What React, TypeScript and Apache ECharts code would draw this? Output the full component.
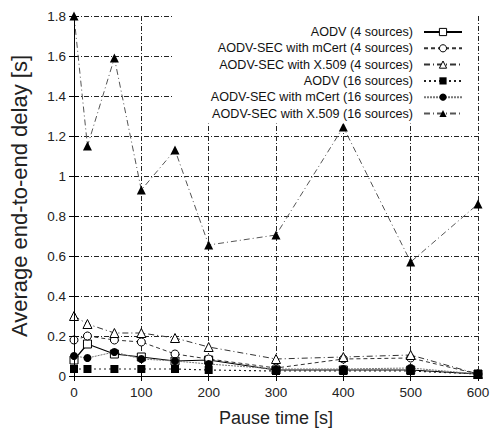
import React, { useEffect, useRef } from "react";
import * as echarts from "echarts";

const pauseTimes = [0, 20, 60, 100, 150, 200, 300, 400, 500, 600];
const aodv4 = [0.08, 0.16, 0.11, 0.095, 0.075, 0.08, 0.03, 0.03, 0.03, 0.01];
const mcert4 = [0.18, 0.2, 0.18, 0.17, 0.11, 0.085, 0.04, 0.085, 0.09, 0.01];
const x509_4 = [0.3, 0.26, 0.215, 0.215, 0.19, 0.145, 0.085, 0.095, 0.105, 0.01];
const aodv16 = [0.035, 0.035, 0.035, 0.035, 0.035, 0.03, 0.025, 0.025, 0.025, 0.01];
const mcert16 = [0.1, 0.09, 0.12, 0.085, 0.075, 0.06, 0.035, 0.035, 0.04, 0.01];
const x509_16 = [1.8, 1.15, 1.59, 0.93, 1.13, 0.655, 0.705, 1.245, 0.57, 0.86];

const seriesNames = [
  "AODV (4 sources)",
  "AODV-SEC with mCert (4 sources)",
  "AODV-SEC with X.509 (4 sources)",
  "AODV (16 sources)",
  "AODV-SEC with mCert (16 sources)",
  "AODV-SEC with X.509 (16 sources)",
];

const FONT = "'Liberation Sans', Arial, sans-serif";

const styles = [
  { symbol: "rect", hollow: true, line: "solid" as any, lineColor: "#000", width: 1.2 },
  { symbol: "circle", hollow: true, line: [4, 3], lineColor: "#333", width: 1 },
  { symbol: "triangle", hollow: true, line: [6, 3, 1, 3], lineColor: "#333", width: 1 },
  { symbol: "rect", hollow: false, line: [2, 3], lineColor: "#222", width: 1.2 },
  { symbol: "circle", hollow: false, line: [2, 1], lineColor: "#777", width: 1 },
  { symbol: "triangle", hollow: false, line: [6, 3, 1, 3], lineColor: "#555", width: 1 },
];

const allData = [aodv4, mcert4, x509_4, aodv16, mcert16, x509_16];

export default function App() {
  const ref = useRef<HTMLDivElement>(null);
  useEffect(() => {
    if (!ref.current) return;
    const chart = echarts.init(ref.current, null, { renderer: "svg" });
    const gridLine = { show: true, lineStyle: { color: "#222", width: 1, type: [5, 2, 1, 2] as any } };
    const series = allData.map((vals, i) => {
      const st = styles[i];
      return {
        name: seriesNames[i],
        type: "line",
        data: pauseTimes.map((x, j) => [x, vals[j]]),
        symbol: st.symbol,
        symbolSize: st.symbol === "triangle" ? 9 : 8,
        showAllSymbol: true,
        xAxisIndex: 0,
        yAxisIndex: 0,
        lineStyle: { color: st.lineColor, width: st.width, type: st.line },
        itemStyle: st.hollow
          ? { color: "#fff", borderColor: "#000", borderWidth: 1 }
          : { color: "#000", borderColor: "#000", borderWidth: 0 },
        emphasis: { disabled: true },
        z: i === 5 ? 3 : 2,
      };
    });
    const legendData = seriesNames.map((name, i) => ({
      name,
      itemStyle: styles[i].hollow
        ? { color: "#fff", borderColor: "#000", borderWidth: 1 }
        : { color: "#000", borderColor: "#000", borderWidth: 0 },
    }));
    chart.setOption({
      animation: false,
      grid: { left: 74, top: 16, width: 404, height: 360, show: false },
      legend: {
        data: legendData,
        orient: "vertical",
        align: "right",
        right: 15,
        top: 16,
        padding: [9, 15, 3, 38],
        backgroundColor: "#fff",
        itemWidth: 38,
        itemHeight: 9,
        itemGap: 2.3,
        selectedMode: false,
        textStyle: {
          fontFamily: FONT,
          fontSize: 12.6,
          color: "#111",
          lineHeight: 14,
          padding: [0, 6, 0, 0],
        },
        z: 4,
      },
      xAxis: [
        {
          type: "value",
          min: 0,
          max: 600,
          interval: 100,
          position: "bottom",
          name: "Pause time [s]",
          nameLocation: "middle",
          nameGap: 33,
          nameTextStyle: { fontFamily: FONT, fontSize: 18, color: "#222" },
          axisLine: { show: true, lineStyle: { color: "#000", width: 1 } },
          axisTick: { show: true, inside: true, length: 5, lineStyle: { color: "#000" } },
          axisLabel: { fontFamily: FONT, fontSize: 13.5, color: "#222", margin: 9 },
          splitLine: gridLine,
        },
        {
          type: "value",
          min: 0,
          max: 600,
          interval: 100,
          position: "top",
          z: 10,
          axisLine: { show: true, lineStyle: { color: "#000", width: 1 } },
          axisTick: { show: true, inside: true, length: 5, lineStyle: { color: "#000" } },
          axisLabel: { show: false },
          splitLine: { show: false },
        },
      ],
      yAxis: [
        {
          type: "value",
          min: 0,
          max: 1.8,
          interval: 0.2,
          position: "left",
          name: "Average end-to-end delay [s]",
          nameLocation: "middle",
          nameRotate: 90,
          nameGap: 44,
          nameTextStyle: { fontFamily: FONT, fontSize: 22, color: "#222" },
          axisLine: { show: true, lineStyle: { color: "#000", width: 1 } },
          axisTick: { show: true, inside: true, length: 5, lineStyle: { color: "#000" } },
          axisLabel: { fontFamily: FONT, fontSize: 13.5, color: "#222", margin: 8 },
          splitLine: gridLine,
        },
        {
          type: "value",
          min: 0,
          max: 1.8,
          interval: 0.2,
          position: "right",
          z: 10,
          axisLine: { show: true, lineStyle: { color: "#000", width: 1 } },
          axisTick: { show: true, inside: true, length: 5, lineStyle: { color: "#000" } },
          axisLabel: { show: false },
          splitLine: { show: false },
        },
      ],
      series,
    });
    return () => chart.dispose();
  }, []);
  return (
    <div
      ref={ref}
      style={{ position: "absolute", left: 0, top: 0, width: 493, height: 432, background: "#fff" }}
    />
  );
}
